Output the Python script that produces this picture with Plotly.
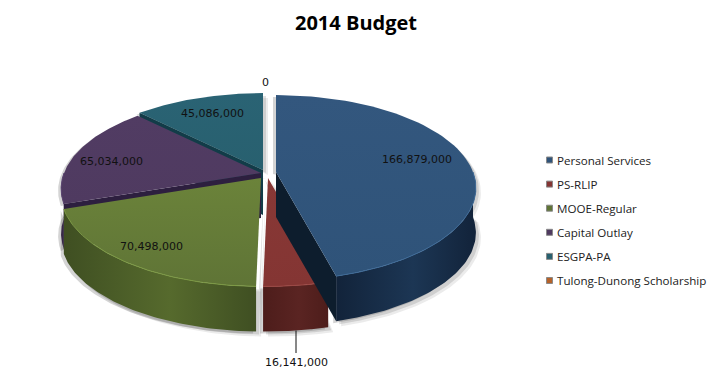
import numpy as np
import plotly.graph_objects as go

# ---- data ----
categories = ["Personal Services", "PS-RLIP", "MOOE-Regular", "Capital Outlay", "ESGPA-PA", "Tulong-Dunong Scholarship"]
values = [166879000, 16141000, 70498000, 65034000, 45086000, 0]
title = "2014 Budget"

# ---- style / layout ----
top_colors = ["#2f5379", "#843533", "#5f7436", "#4f3a60", "#28606f", "#b5622a"]
top_light = ["#33577e", "#883836", "#6b833a", "#513c63", "#2a6374", "#c06a30"]
edge_light = ["#3f6b98", "#9c4844", "#7c9944", "#5c4672", "#33707f", "#d08040"]
wall_dark = ["#12233a", "#4d1d1b", "#3f4f22", "#2d1f3c", "#0f3038", "#703a15"]
wall_mid = ["#1c3654", "#5a2422", "#566a2d", "#3a2a4c", "#164450", "#8a4a20"]
cut_dark = ["#0d1d2d", "#3a1514", "#2f3b18", "#2d1f3f", "#123c48", "#502a10"]
apexes = [(276, 172), (268, 178), (261, 178), (261, 173), (263, 170), (264, 172)]
RX, RY, P, THICK = 197, 90, 0.17, 45
label_pos = [(417, 159), (296, 362), (151, 246), (111, 161), (212, 113), (265, 82)]
LEG_X, LEG_Y0, LEG_STEP = 549.5, 160, 24.1


def project(apex, deg):
    a = np.radians(deg)
    X, Y = np.sin(a), -np.cos(a)
    k = 1 / (1 - P * Y)
    return apex[0] + RX * X * k, apex[1] + RY * Y * k


def arc(apex, d0, d1, n=70):
    return project(apex, np.linspace(d0, d1, n))


def poly(x, y, color=None, grad=None):
    tr = dict(x=list(x) + [x[0]], y=list(y) + [y[0]], mode="lines", fill="toself",
              line=dict(width=0), hoverinfo="skip", showlegend=False)
    if grad:
        tr["fillgradient"] = grad
        tr["fillcolor"] = "rgba(0,0,0,0)"
    else:
        tr["fillcolor"] = color
    return go.Scatter(**tr)


total = sum(values)
bounds = np.concatenate([[0], np.cumsum(values) / total * 360])
fig = go.Figure()


def wall_range(i):
    return max(bounds[i], 90), min(bounds[i + 1], 270)


# soft drop shadow below everything
for (ox, oy, alpha) in [(5, 5, .10), (3, 3, .16), (-3, 2, .22)]:
    for i in range(5):
        ax, ay = apexes[i]
        d0, d1 = bounds[i], bounds[i + 1]
        xs, ys = arc(apexes[i], d0, d1)
        lo, hi = wall_range(i)
        if hi > lo:
            wx, wy = arc(apexes[i], lo, hi)
            wy = wy + THICK
            px = [ax + ox] + list(xs + ox) + list(wx[::-1] + ox)
            py = [ay + oy] + list(ys + oy) + list(wy[::-1] + oy)
        else:
            px = [ax + ox] + list(xs + ox)
            py = [ay + oy] + list(ys + oy)
        fig.add_trace(poly(px, py, f"rgba(60,60,60,{alpha})"))

# slices back to front
for i in [4, 3, 2, 1, 0]:
    ax, ay = apexes[i]
    d0, d1 = bounds[i], bounds[i + 1]
    # outer wall
    lo, hi = wall_range(i)
    if hi > lo:
        wx, wy = arc(apexes[i], lo, hi)
        fig.add_trace(poly(list(wx) + list(wx[::-1]), list(wy) + list(wy[::-1] + THICK),
                           grad=dict(type="horizontal",
                                     colorscale=[[0, wall_dark[i]], [0.55, wall_mid[i]], [1, wall_dark[i]]])))
    # cut face at the slice's end (visible below the edge)
    ex, ey = project(apexes[i], d1)
    if i == 0:
        fig.add_trace(poly([ax, ex, ex, ax], [ay, ey, ey + THICK, ay + THICK], cut_dark[i]))
    elif i in (3, 4):
        sx, sy = project(apexes[i], d0)
        fig.add_trace(poly([ax, sx, sx, ax], [ay, sy, sy + THICK, ay + THICK], cut_dark[i]))
    # top face
    xs, ys = arc(apexes[i], d0, d1)
    fig.add_trace(poly([ax] + list(xs), [ay] + list(ys),
                       grad=dict(type="vertical",
                                 colorscale=[[0, top_colors[i]], [1, top_light[i]]])))
    # bevelled rim
    if hi > lo:
        rx_, ry_ = arc(apexes[i], lo, hi)
        fig.add_trace(go.Scatter(x=rx_, y=ry_, mode="lines", hoverinfo="skip", showlegend=False,
                                 line=dict(color=edge_light[i], width=1)))

# leader line for the small slice
mid = (bounds[1] + bounds[2]) / 2
lx, ly = project(apexes[1], mid)
fig.add_shape(type="line", x0=label_pos[1][0], x1=label_pos[1][0], y0=ly + THICK, y1=353,
              line=dict(color="#111111", width=1))

# value labels
for v, (x, y) in zip(values, label_pos):
    fig.add_annotation(x=x, y=y, text=f"{v:,}", showarrow=False,
                       font=dict(family="DejaVu Sans", size=11, color="#111111"))

# legend drawn as markers + text to match the tight spacing
leg_y = [LEG_Y0 + i * LEG_STEP for i in range(len(categories))]
fig.add_trace(go.Scatter(x=[LEG_X] * len(categories), y=leg_y, mode="markers", hoverinfo="skip",
                         showlegend=False,
                         marker=dict(symbol="square", size=6, color=top_colors,
                                     line=dict(color="#8a8a8a", width=1))))
for c, y in zip(categories, leg_y):
    fig.add_annotation(x=555, y=y, text=c, showarrow=False, xanchor="left",
                       font=dict(family="Open Sans", size=11.6, color="#222222"))

fig.update_layout(
    width=711, height=374, margin=dict(l=0, r=0, t=0, b=0),
    paper_bgcolor="white", plot_bgcolor="white", showlegend=False,
    title=dict(text=f"<b>{title}</b>", x=356 / 711, xanchor="center", y=1 - 23 / 374, yanchor="middle",
               font=dict(family="Open Sans", size=20, color="#000000")),
    xaxis=dict(range=[0, 711], visible=False, fixedrange=True),
    yaxis=dict(range=[374, 0], visible=False, fixedrange=True),
)
fig.write_html("out.html", config={"displayModeBar": False},
               post_script="document.body.style.margin='0';")
